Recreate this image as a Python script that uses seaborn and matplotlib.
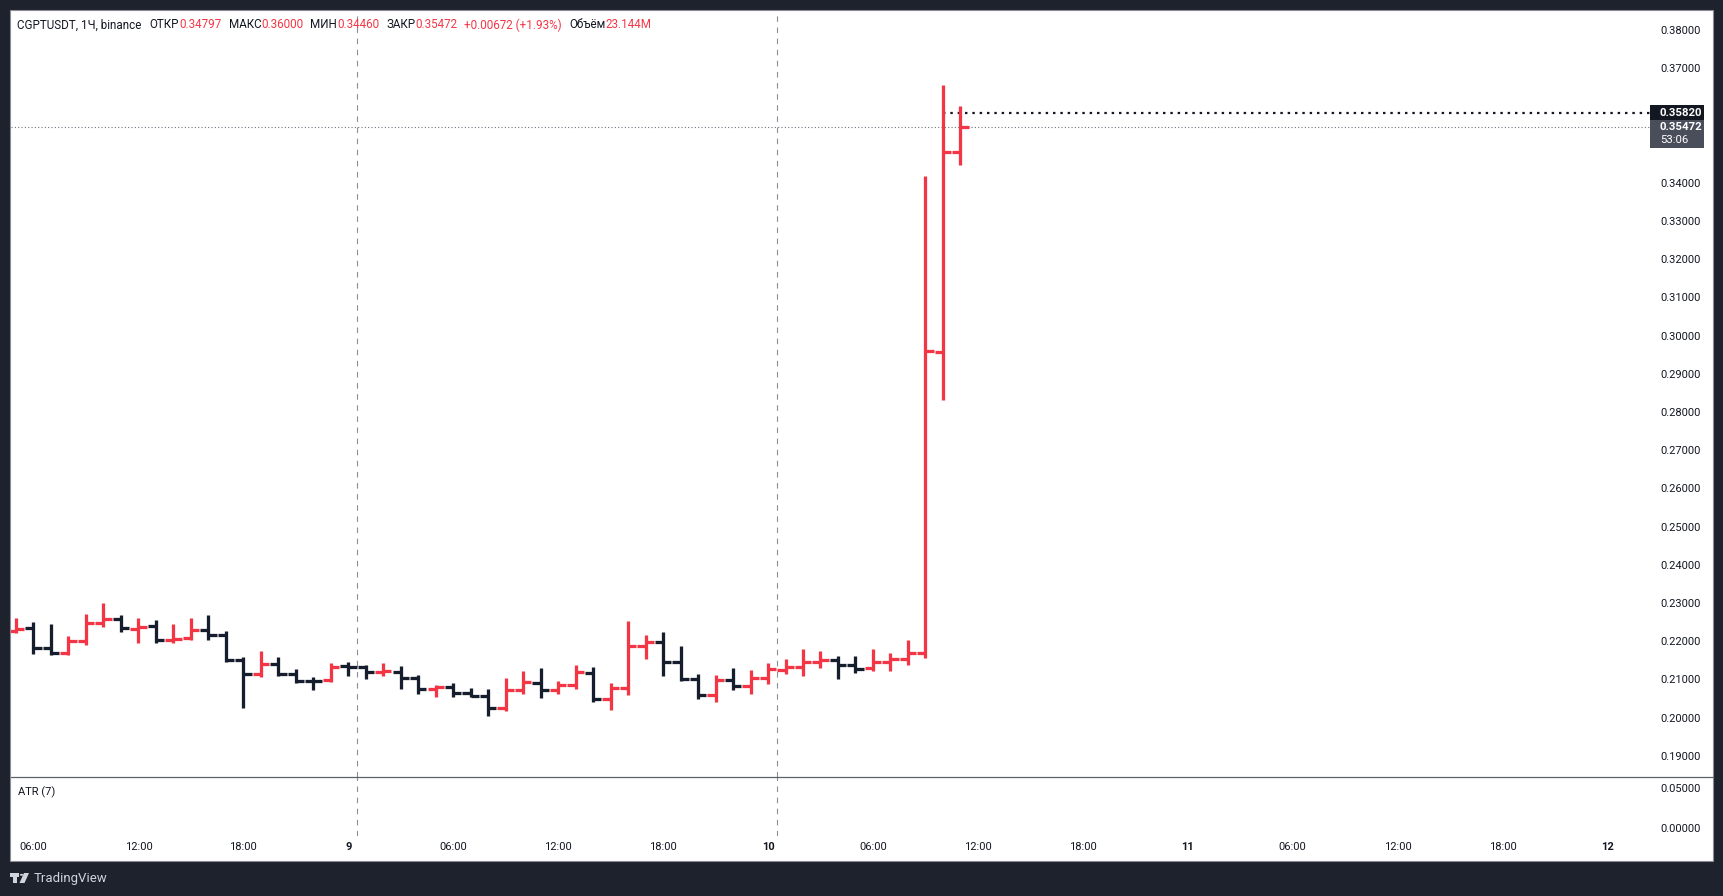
import numpy as np
import pandas as pd
import seaborn as sns
import matplotlib
matplotlib.use("Agg")
import matplotlib.pyplot as plt
from matplotlib.transforms import blended_transform_factory
from matplotlib.patches import Rectangle, Polygon, Circle
from matplotlib.lines import Line2D

# ---------------- data ----------------
# hours counted from day 8, 00:00 (bar 1 = 05:00 on the 8th, last bar = 11:00 on the 10th)
hours = list(range(5, 60))
opens = [0.2228, 0.2234, 0.2182, 0.2169, 0.2201, 0.2247, 0.2259, 0.2233, 0.2239, 0.2202,
         0.2208, 0.2230, 0.2217, 0.2151, 0.2114, 0.2141, 0.2114, 0.2096, 0.2099, 0.2134,
         0.2132, 0.2119, 0.2120, 0.2104, 0.2075, 0.2079, 0.2064, 0.2057, 0.2025, 0.2073,
         0.2090, 0.2073, 0.2085, 0.2116, 0.2048, 0.2078, 0.2187, 0.2198, 0.2145, 0.2101,
         0.2059, 0.2099, 0.2082, 0.2103, 0.2125, 0.2132, 0.2146, 0.2151, 0.2137, 0.2130,
         0.2146, 0.2153, 0.2170, 0.2957, 0.34797]
highs = [0.2260, 0.2250, 0.2246, 0.2214, 0.2272, 0.2300, 0.2269, 0.2261, 0.2256, 0.2246,
         0.2261, 0.2269, 0.2227, 0.2159, 0.2175, 0.2159, 0.2128, 0.2106, 0.2144, 0.2146,
         0.2138, 0.2144, 0.2136, 0.2112, 0.2086, 0.2090, 0.2077, 0.2075, 0.2103, 0.2123,
         0.2130, 0.2096, 0.2138, 0.2133, 0.2091, 0.2253, 0.2217, 0.2225, 0.2188, 0.2115,
         0.2112, 0.2130, 0.2125, 0.2144, 0.2154, 0.2180, 0.2175, 0.2162, 0.2162, 0.2180,
         0.2170, 0.2204, 0.3418, 0.3656, 0.36000]
lows = [0.2221, 0.2167, 0.2163, 0.2163, 0.2189, 0.2236, 0.2223, 0.2194, 0.2194, 0.2194,
        0.2202, 0.2202, 0.2145, 0.2024, 0.2105, 0.2108, 0.2090, 0.2071, 0.2092, 0.2108,
        0.2101, 0.2110, 0.2076, 0.2062, 0.2053, 0.2054, 0.2054, 0.2003, 0.2016, 0.2061,
        0.2050, 0.2063, 0.2074, 0.2040, 0.2019, 0.2058, 0.2154, 0.2110, 0.2095, 0.2048,
        0.2040, 0.2071, 0.2063, 0.2087, 0.2113, 0.2110, 0.2129, 0.2100, 0.2116, 0.2121,
        0.2121, 0.2139, 0.2157, 0.2832, 0.34460]
closes = [0.2232, 0.2182, 0.2169, 0.2201, 0.2247, 0.2259, 0.2234, 0.2236, 0.2204, 0.2205,
          0.2230, 0.2217, 0.2151, 0.2114, 0.2141, 0.2114, 0.2096, 0.2095, 0.2132, 0.2132,
          0.2119, 0.2121, 0.2104, 0.2075, 0.2079, 0.2064, 0.2057, 0.2025, 0.2073, 0.2093,
          0.2073, 0.2085, 0.2119, 0.2048, 0.2078, 0.2187, 0.2198, 0.2145, 0.2101, 0.2059,
          0.2099, 0.2082, 0.2103, 0.2127, 0.2132, 0.2146, 0.2151, 0.2137, 0.2127, 0.2146,
          0.2153, 0.2170, 0.2959, 0.34800, 0.35472]

# 0.36000 and 0.35000 sit under the price-label boxes in the reference
price_ticks = [0.38, 0.37, 0.34, 0.33, 0.32, 0.31, 0.30, 0.29, 0.28, 0.27,
               0.26, 0.25, 0.24, 0.23, 0.22, 0.21, 0.20, 0.19]
atr_ticks = [0.05, 0.0]
time_ticks = [6, 12, 18, 24, 30, 36, 42, 48, 54, 60, 66, 72, 78, 84, 90, 96]
time_labels = ["06:00", "12:00", "18:00", "9", "06:00", "12:00", "18:00", "10",
               "06:00", "12:00", "18:00", "11", "06:00", "12:00", "18:00", "12"]
session_lines = [24.5, 48.5]
marked_level = 0.35820
countdown = "53:06"
symbol = "CGPTUSDT, 1Ч, binance"
volume = "23.144M"
atr_title = "ATR (7)"

# ---------------- style ----------------
RED = "#f23645"
DARK = "#161d2c"
TXT = "#131722"
FRAME = "#1e222d"
sns.set_theme(style="white")
FONT = ["Roboto", "DejaVu Sans"]
plt.rcParams["font.family"] = FONT

W, H = 1724, 896
fig = plt.figure(figsize=(W / 100, H / 100), dpi=100, facecolor=FRAME)

def fx(px):
    return px / W

def fy(py):
    return 1 - py / H

# white panel
fig.patches.append(Rectangle((fx(10.5), fy(860.5)), fx(1713) - fx(10.5), fy(10) - fy(860.5),
                             transform=fig.transFigure, facecolor="white",
                             edgecolor="#8a8d96", linewidth=0.8, zorder=-10))

ax = fig.add_axes([fx(11), fy(777), fx(1650) - fx(11), fy(10) - fy(777)])
axa = fig.add_axes([fx(11), fy(836), fx(1650) - fx(11), fy(777) - fy(836)], sharex=ax)
for a in (ax, axa):
    a.set_facecolor("none")
    for s in a.spines.values():
        s.set_visible(False)
    a.grid(False)

# ---------------- OHLC bars via seaborn ----------------
tl = 0.47
rows = []
for i, (x, o, h, l, c) in enumerate(zip(hours, opens, highs, lows, closes)):
    d = "up" if c >= o else "down"
    rows += [(x, l, f"{i}v", d), (x, h, f"{i}v", d),
             (x - tl, o, f"{i}o", d), (x, o, f"{i}o", d),
             (x, c, f"{i}c", d), (x + tl, c, f"{i}c", d)]
df = pd.DataFrame(rows, columns=["x", "y", "seg", "dir"])
sns.lineplot(data=df, x="x", y="y", units="seg", estimator=None, sort=False,
             hue="dir", palette={"up": RED, "down": DARK}, linewidth=2.35,
             legend=False, ax=ax, solid_capstyle="butt")

ax.set_xlim(4.714, 98.43)
ax.set_ylim(0.18445, 0.385236)
axa.set_ylim(-0.01, 0.06375)

# session separators
for xv in session_lines:
    for a in (ax, axa):
        a.axvline(xv, color="#8d8f96", linewidth=0.8, linestyle=(0, (5, 5)), zorder=0.5)

# price lines
last_close = closes[-1]
ax.axhline(last_close, color="#6f7280", linewidth=0.8, linestyle=(0, (1, 2)), zorder=0.6)
ax.plot([hours[-2], ax.get_xlim()[1]], [marked_level, marked_level], color=TXT,
        linewidth=1.6, linestyle=(0, (1.1, 2.2)), zorder=0.7)

# axes ticks
ax.yaxis.tick_right()
ax.set_yticks(price_ticks)
ax.set_yticklabels([f"{v:.5f}" for v in price_ticks])
ax.tick_params(axis="y", length=0, pad=7.2, labelsize=8, labelcolor=TXT)
ax.tick_params(axis="x", bottom=False, labelbottom=False)
ax.set_xlabel("")
ax.set_ylabel("")

axa.yaxis.tick_right()
axa.set_yticks(atr_ticks)
axa.set_yticklabels([f"{v:.5f}" for v in atr_ticks])
axa.tick_params(axis="y", length=0, pad=7.2, labelsize=8, labelcolor=TXT)
axa.set_xticks(time_ticks)
axa.set_xticklabels(time_labels)
axa.tick_params(axis="x", length=0, pad=4.0, labelsize=8, labelcolor=TXT)
for lab in axa.get_xticklabels():
    if ":" not in lab.get_text():
        lab.set_fontweight("bold")
axa.text(0.004, 0.74, atr_title, transform=axa.transAxes, fontsize=8, color=TXT,
         va="center", ha="left")

# pane separator
fig.add_artist(Line2D([fx(11), fx(1713)], [fy(777), fy(777)], color="#5d606b",
                      linewidth=0.9, transform=fig.transFigure))

# price-axis labels (boxes)
fig.canvas.draw()
ppd = (ax.transData.transform((0, 1.0))[1] - ax.transData.transform((0, 0.0))[1])  # px per unit
bt = blended_transform_factory(ax.transAxes, ax.transData)
axw = ax.get_window_extent().width
bw = 54 / axw
ax.add_patch(Rectangle((1.0, marked_level - 8.5 / ppd), bw, 17 / ppd, transform=bt,
                       facecolor="#131722", edgecolor="none", clip_on=False, zorder=5))
ax.text(1.0 + 10 / axw, marked_level, f"{marked_level:.5f}", transform=bt, color="white",
        fontsize=8.2, fontweight="bold", va="center", ha="left", zorder=6, clip_on=False)
ax.add_patch(Rectangle((1.0, last_close - 21.5 / ppd), bw, 28 / ppd, transform=bt,
                       facecolor="#4a4e5a", edgecolor="none", clip_on=False, zorder=5))
ax.text(1.0 + 10 / axw, last_close, f"{last_close:.5f}", transform=bt, color="white",
        fontsize=8.2, fontweight="bold", va="center", ha="left", zorder=6, clip_on=False)
ax.text(1.0 + 10 / axw, last_close - 13 / ppd, countdown, transform=bt, color="white",
        fontsize=8.2, va="center", ha="left", zorder=6, clip_on=False)

# header legend
chg = closes[-1] - closes[-2]
pct = chg / closes[-2] * 100
segments = [
    (symbol, TXT, 0), ("ОТКР", TXT, 8), (f"{opens[-1]:.5f}", RED, 0),
    ("МАКС", TXT, 7), (f"{highs[-1]:.5f}", RED, 0),
    ("МИН", TXT, 7), (f"{lows[-1]:.5f}", RED, 0),
    ("ЗАКР", TXT, 7), (f"{closes[-1]:.5f}", RED, 0),
    (f"{chg:+.5f} ({pct:+.2f}%)", RED, 7),
    ("Объём", TXT, 7), (volume, RED, 0),
]
r = fig.canvas.get_renderer()
xp = 17.5
for txt, col, gap in segments:
    xp += gap
    t = fig.text(fx(xp), fy(25), txt, color=col, fontsize=8.4, va="center", ha="left")
    xp += t.get_window_extent(renderer=r).width

# TradingView mark
LOGO = "#d1d4dc"
for patch in [
    Rectangle((fx(9.6), fy(876.5)), fx(19.5) - fx(9.6), fy(873) - fy(876.5)),
    Rectangle((fx(13.5), fy(883)), fx(17) - fx(13.5), fy(873) - fy(883)),
    Polygon([(fx(24), fy(873)), (fx(29), fy(873)), (fx(24.5), fy(883)), (fx(19.5), fy(883))]),
]:
    patch.set_transform(fig.transFigure)
    patch.set_facecolor(LOGO)
    patch.set_edgecolor("none")
    fig.patches.append(patch)
fig.patches.append(Circle((fx(21.6), fy(874.8)), fx(1.8), transform=fig.transFigure,
                          facecolor=LOGO, edgecolor="none"))
fig.text(fx(33.5), fy(878), "TradingView", color=LOGO, fontsize=9.5, va="center", ha="left")

fig.savefig("out.png", dpi=100, facecolor=FRAME)
